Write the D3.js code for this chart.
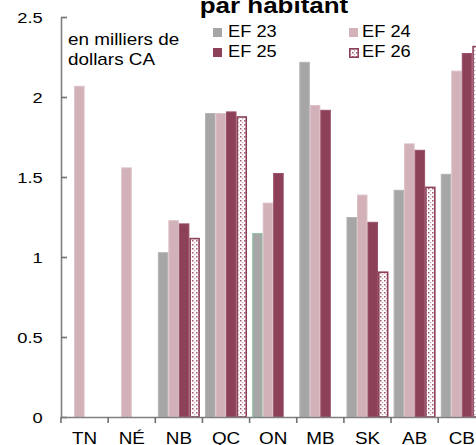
<!DOCTYPE html>
<html><head><meta charset="utf-8">
<script src="https://cdn.jsdelivr.net/npm/d3@7"></script>
<style>body{margin:0;background:#fff}svg{display:block}text{font-family:"Liberation Sans",Arial,sans-serif;fill:#000}</style>
</head><body><svg id="c" width="476" height="445"></svg>
<script>
const categories = ["TN","NÉ","NB","QC","ON","MB","SK","AB","CB"];
const seriesNames = ["EF 23","EF 24","EF 25","EF 26"];
const ef23 = [null,null,1.03,1.90,1.15,2.22,1.25,1.42,1.52];
const ef24 = [2.07,1.56,1.23,1.90,1.34,1.95,1.39,1.71,2.165];
const ef25 = [null,null,1.21,1.91,1.525,1.92,1.22,1.67,2.275];
const ef26 = [null,null,1.12,1.88,null,null,0.91,1.44,2.32];
const yTicks = [0,0.5,1,1.5,2,2.5];
const yTickLabels = ["0","0.5","1","1.5","2","2.5"];

const values = [ef23, ef24, ef25, ef26];
const fills = ["#a6a6a6","#d2b1b9","#8c4159","url(#pat26)"];
const strokes = ["#b4b4b4","#dcc2c8","#9a5066","#8c4159"];
const SX = 1.18;

const svg = d3.select("#c");
const defs = svg.append("defs");
const pat = defs.append("pattern").attr("id","pat26").attr("patternUnits","userSpaceOnUse")
  .attr("width",4).attr("height",4);
pat.append("rect").attr("width",4).attr("height",4).attr("fill","#fff");
pat.append("rect").attr("x",0).attr("y",0).attr("width",1.5).attr("height",1.5).attr("fill","#a35a70");
pat.append("rect").attr("x",2).attr("y",2).attr("width",1.2).attr("height",1.2).attr("fill","#c796a4");

const x0 = 61, step = 47.15;
const x = d3.scaleBand().domain(categories).range([x0, x0 + step*categories.length]).padding(0);
const x1 = d3.scaleBand().domain(seriesNames).range([0, x.bandwidth()]).paddingInner(0).paddingOuter(0.245);
const y = d3.scaleLinear().domain([0,2.5]).range([417,17]);

// bars
seriesNames.forEach((s,si)=>{
  const g = svg.append("g");
  categories.forEach((c,ci)=>{
    const v = values[si][ci];
    if (v==null) return;
    const isPat = si===3;
    const sw = isPat?1.6:1;
    let stroke = strokes[si];
    if (si===0 && c==="ON") stroke = "#8fc6a6";
    g.append("rect")
      .attr("x", x(c)+x1(s)+sw/2)
      .attr("y", y(v)+sw/2)
      .attr("width", x1.bandwidth()-sw)
      .attr("height", y(0)-y(v)-sw/2)
      .attr("fill", fills[si])
      .attr("stroke", stroke)
      .attr("stroke-width", sw);
  });
});

// left axis
const ya = d3.axisLeft(y).tickValues(yTicks).tickFormat((d,i)=>yTickLabels[i])
  .tickSizeInner(-6).tickSizeOuter(0).tickPadding(15.5);
const gy = svg.append("g").attr("transform","translate(61,0)").call(ya);
gy.select(".domain").attr("stroke","#808080").attr("stroke-width",1.6);
gy.selectAll(".tick line").attr("stroke","#707070").attr("stroke-width",1.6);
gy.selectAll(".tick text").attr("font-size","15.5px").attr("font-family","Liberation Sans, Arial, sans-serif")
  .attr("fill","#000").attr("transform",`scale(${SX},1)`).attr("dy","0.36em");

// bottom axis
const xa = d3.axisBottom(x).tickSize(0).tickPadding(16);
const gx = svg.append("g").attr("transform","translate(0,417)").call(xa);
gx.select(".domain").attr("stroke","#808080").attr("stroke-width",1.6);
gx.selectAll(".tick text").attr("font-size","16px").attr("font-family","Liberation Sans, Arial, sans-serif")
  .attr("fill","#000").attr("transform",`scale(${SX},1)`).attr("text-anchor","middle");
// boundary ticks
gx.selectAll(".btick").data(categories.concat(["_end"])).enter().append("line")
  .attr("class","btick")
  .attr("x1",(d,i)=> i<categories.length ? x(d) : x.range()[1])
  .attr("x2",(d,i)=> i<categories.length ? x(d) : x.range()[1])
  .attr("y1",0).attr("y2",6).attr("stroke","#707070").attr("stroke-width",1.6);

// title
svg.append("text").attr("transform",`translate(274,13) scale(${SX},1)`)
  .attr("text-anchor","middle").attr("font-weight","bold").attr("font-size","22px").text("par habitant");

// unit note
svg.append("text").attr("transform",`translate(68,45) scale(${SX},1)`).attr("font-size","16px").text("en milliers de");
svg.append("text").attr("transform",`translate(68,65) scale(${SX},1)`).attr("font-size","16px").text("dollars CA");

// legend
const legPos = [[213,228,37],[349,362,37],[213,228,57],[349,362,57]];
seriesNames.forEach((s,i)=>{
  const [mx,tx,by] = legPos[i];
  const isPat = i===3;
  svg.append("rect").attr("x",mx+(isPat?0.8:0)).attr("y",by-9+(isPat?0.8:0))
    .attr("width",isPat?8.4:9).attr("height",isPat?8.4:9)
    .attr("fill",fills[i]).attr("stroke",isPat?strokes[i]:"none").attr("stroke-width",1.6);
  svg.append("text").attr("transform",`translate(${tx},${by}) scale(1.12,1)`).attr("font-size","16.3px").text(s);
});
</script></body></html>
